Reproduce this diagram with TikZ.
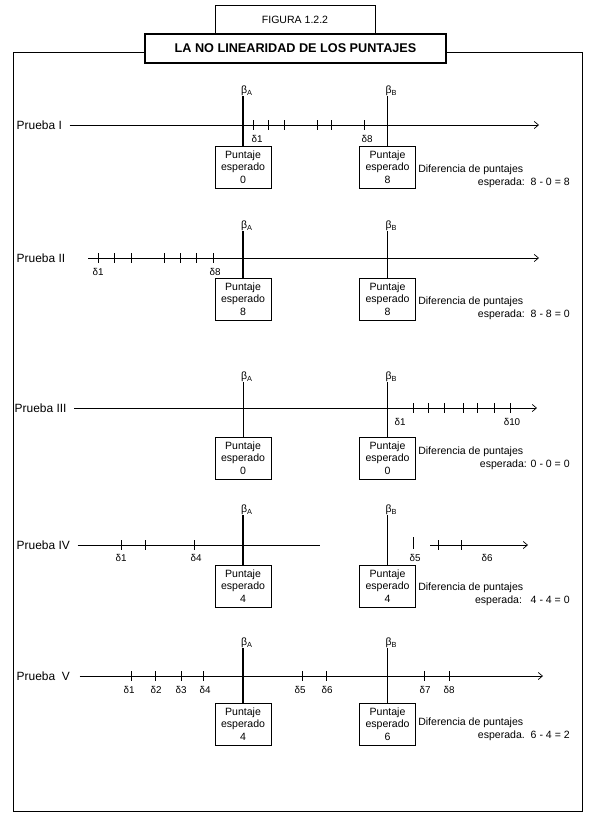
\documentclass[tikz,border=0pt]{standalone}
\usepackage{fontspec}
\setmainfont{Liberation Sans}
\usetikzlibrary{arrows.meta}

\tikzset{
  caja/.style={draw, line width=0.7pt, minimum width=1.4cm, minimum height=1.05cm, inner sep=1pt, align=center, font=\fontsize{7.5}{9}\selectfont},
  eje/.style={line width=0.5pt, -{Straight Barb[length=3pt,width=5pt]}},
  marca/.style={line width=0.5pt},
  betaA/.style={line width=1.1pt},
  betaB/.style={line width=0.6pt},
  prueba/.style={anchor=west, inner sep=1pt, font=\fontsize{8.5}{10}\selectfont},
  delta/.style={inner sep=0pt, font=\fontsize{7}{8}\selectfont},
  texto/.style={inner sep=0pt, font=\fontsize{7.5}{9}\selectfont},
}

\begin{document}
\begin{tikzpicture}[x=0.025cm, y=-0.025cm]

    \useasboundingbox (0,0) rectangle (600,829);

    \node[draw, line width=0.6pt, minimum width=4cm, minimum height=0.725cm, font=\fontsize{7.5}{9}\selectfont] (fig) at (295,20) {FIGURA 1.2.2};
    \node[draw, line width=1.1pt, minimum width=7.525cm, minimum height=0.725cm, font=\bfseries\fontsize{9}{11}\selectfont] (titulo) at (295.5,48.5) {LA NO LINEARIDAD DE LOS PUNTAJES};
    \draw[line width=0.6pt] (titulo.west |- 0,52) -- (13,52) -- (13,811) -- (582,811) -- (582,52) -- (titulo.east |- 0,52);

    % Prueba I
    \node[prueba] (p1) at (15,125) {Prueba I};
    \coordinate (f1) at (539,125);
    \draw[eje] (p1.east) ++(6,0) -- (f1);
    \foreach \x in {253,268,284,317,331,364} \draw[marca] (\x,120) -- (\x,130);
    \node[delta] (d11) at (257,139) {δ1};
    \node[delta] (d18) at (367,139) {δ8};
    \node[texto] (bA1) at (247,91) {β\textsubscript{A}};
    \node[texto] (bB1) at (391.5,91) {β\textsubscript{B}};
    \node[caja] (cA1) at (243,167) {Puntaje\\esperado\\0};
    \node[caja] (cB1) at (387.5,167) {Puntaje\\esperado\\8};
    \draw[betaA] (cA1.north) -- (cA1.north |- bA1.south);
    \draw[betaB] (cB1.north) -- (cB1.north |- bB1.south);
    \node[texto, anchor=west] (dif1) at (418,170) {Diferencia de puntajes};
    \node[texto, anchor=east] (esp1) at (570,183) {esperada:\ \ 8 - 0 = 8};

    % Prueba II
    \node[prueba] (p2) at (15,258) {Prueba II};
    \coordinate (i2) at (88,258);
    \coordinate (f2) at (539,258);
    \draw[eje] (i2) -- (f2);
    \foreach \x in {98,114,131,164,180,196,213} \draw[marca] (\x,253) -- (\x,263);
    \node[delta] (d21) at (98,272) {δ1};
    \node[delta] (d28) at (215,272) {δ8};
    \node[texto] (bA2) at (247,226) {β\textsubscript{A}};
    \node[texto] (bB2) at (391.5,226) {β\textsubscript{B}};
    \node[caja] (cA2) at (243,299) {Puntaje\\esperado\\8};
    \node[caja] (cB2) at (387.5,299) {Puntaje\\esperado\\8};
    \draw[betaA] (cA2.north) -- (cA2.north |- bA2.south);
    \draw[betaB] (cB2.north) -- (cB2.north |- bB2.south);
    \node[texto, anchor=west] (dif2) at (418,302) {Diferencia de puntajes};
    \node[texto, anchor=east] (esp2) at (570,315) {esperada:\ \ 8 - 8 = 0};

    % Prueba III
    \node[prueba] (p3) at (13,408) {Prueba III};
    \coordinate (f3) at (537,408);
    \draw[eje] (p3.east) ++(6,0) -- (f3);
    \foreach \x in {413,428,444,463,477,494,510} \draw[marca] (\x,403) -- (\x,413);
    \node[delta] (d31) at (400,422) {δ1};
    \node[delta] (d310) at (512,422) {δ10};
    \node[texto] (bA3) at (247,377) {β\textsubscript{A}};
    \node[texto] (bB3) at (391.5,377) {β\textsubscript{B}};
    \node[caja] (cA3) at (243,458) {Puntaje\\esperado\\0};
    \node[caja] (cB3) at (387.5,458) {Puntaje\\esperado\\0};
    \draw[betaB] (cA3.north) -- (cA3.north |- bA3.south);
    \draw[betaB] (cB3.north) -- (cB3.north |- bB3.south);
    \node[texto, anchor=west] (dif3) at (418,452) {Diferencia de puntajes};
    \node[texto, anchor=east] (esp3) at (570,465) {esperada: 0 - 0 = 0};

    % Prueba IV
    \node[prueba] (p4) at (15,545) {Prueba IV};
    \coordinate (m4) at (320,545);
    \coordinate (n4) at (430,545);
    \coordinate (f4) at (528,545);
    \draw[marca] (p4.east) ++(6,0) -- (m4);
    \draw[eje] (n4) -- (f4);
    \foreach \x in {121,145,194,438,461} \draw[marca] (\x,540) -- (\x,550);
    \draw[marca] (413,537) -- (413,549);
    \node[delta] (d41) at (121,558) {δ1};
    \node[delta] (d44) at (196,558) {δ4};
    \node[delta] (d45) at (415,558) {δ5};
    \node[delta] (d46) at (487,558) {δ6};
    \node[texto] (bA4) at (247,510) {β\textsubscript{A}};
    \node[texto] (bB4) at (391.5,510) {β\textsubscript{B}};
    \node[caja] (cA4) at (243,586) {Puntaje\\esperado\\4};
    \node[caja] (cB4) at (387.5,586) {Puntaje\\esperado\\4};
    \draw[betaA] (cA4.north) -- (cA4.north |- bA4.south);
    \draw[betaA] (cB4.north) -- (cB4.north |- bB4.south);
    \node[texto, anchor=west] (dif4) at (418,588) {Diferencia de puntajes};
    \node[texto, anchor=east] (esp4) at (570,601) {esperada:\ \ \ 4 - 4 = 0};

    % Prueba V
    \node[prueba] (p5) at (15,676) {Prueba\ \ V};
    \coordinate (f5) at (543,676);
    \draw[eje] (p5.east) ++(8,0) -- (f5);
    \foreach \x in {131,155,181,203,302,326,424,449} \draw[marca] (\x,671) -- (\x,681);
    \foreach \x/\n in {129/1,156/2,181/3,205/4,300/5,327/6,425/7,449/8}
        \node[delta] (d5\n) at (\x,690) {δ\n};
    \node[texto] (bA5) at (247,643) {β\textsubscript{A}};
    \node[texto] (bB5) at (391.5,643) {β\textsubscript{B}};
    \node[caja] (cA5) at (243,724) {Puntaje\\esperado\\4};
    \node[caja] (cB5) at (387.5,724) {Puntaje\\esperado\\6};
    \draw[betaA] (cA5.north) -- (cA5.north |- bA5.south);
    \draw[betaB] (cB5.north) -- (cB5.north |- bB5.south);
    \node[texto, anchor=west] (dif5) at (418,723) {Diferencia de puntajes};
    \node[texto, anchor=east] (esp5) at (570,736) {esperada.\ \ 6 - 4 = 2};

\end{tikzpicture}
\end{document}
